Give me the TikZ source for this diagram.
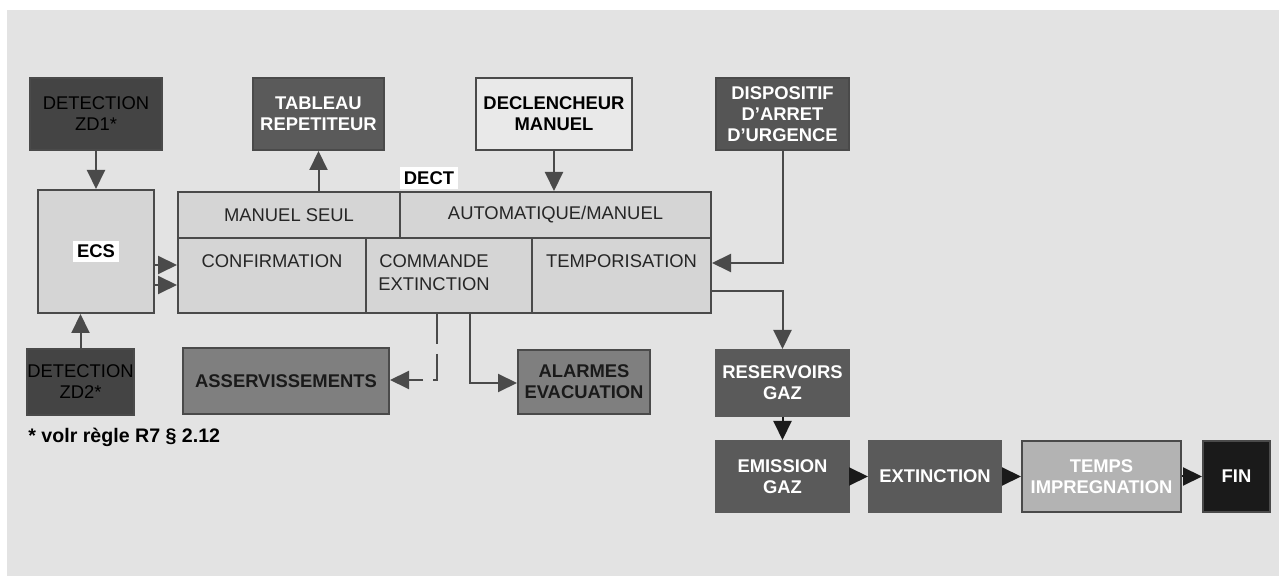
\documentclass[tikz,border=0pt]{standalone}
\usepackage{fontspec}
\setmainfont{Liberation Sans}
\usepackage{xcolor}
\usetikzlibrary{arrows.meta}
\definecolor{fond}{HTML}{E3E3E3}
\definecolor{trait}{HTML}{4A4A4A}
\definecolor{texte}{HTML}{262626}
\definecolor{gdetect}{HTML}{444444}
\definecolor{gfonce}{HTML}{5A5A5A}
\definecolor{gmoyen}{HTML}{7F7F7F}
\definecolor{gclair}{HTML}{D5D5D5}
\definecolor{gpale}{HTML}{B3B3B3}
\definecolor{gblanc}{HTML}{E9E9E9}
\definecolor{gnoir}{HTML}{1A1A1A}
\setlength{\fboxsep}{2pt}
\newcommand{\blanc}[1]{\colorbox{white}{#1}}

\begin{document}
\begin{tikzpicture}[x=0.5pt,y=-0.5pt,
  boite/.style={draw=trait,line width=1pt,inner sep=0pt,align=center,font=\bfseries\fontsize{9.2}{10.5}\selectfont},
  cellule/.style={inner sep=0pt,align=center,text=texte,font=\fontsize{9.2}{11.5}\selectfont},
  fleche/.style={-{Triangle[length=9.5pt,width=9pt]},line width=1pt,draw=trait}]
%\draw[help lines, color=gray!30, dashed] (0,0) grid (1279,576);
\fill[white] (0,0) rectangle (1279,576);
\fill[fond] (7,10) rectangle (1279,576);
\useasboundingbox (0,0) rectangle (1279,576);
% haut
\node[boite,fill=gdetect,text=black,font=\fontsize{9.2}{10.5}\selectfont,minimum width=66pt,minimum height=36pt] (zd1) at (96,114) {DETECTION\\ZD1*};
\node[boite,fill=gfonce,text=white,minimum width=65.5pt,minimum height=36pt] (tab) at (318.5,114) {TABLEAU\\REPETITEUR};
\node[boite,fill=gblanc,text=black,minimum width=78pt,minimum height=36pt] (decl) at (554,114) {DECLENCHEUR\\MANUEL};
\node[boite,fill=gfonce!95!black,text=white,minimum width=66.5pt,minimum height=36pt] (disp) at (782.5,114) {DISPOSITIF\\D'ARRET\\D'URGENCE};
% ECS et DECT
\node[boite,fill=gclair,text=black,minimum width=58pt,minimum height=61.5pt] (ecs) at (96,251.5) {\blanc{ECS}};
\node[draw=trait,line width=1pt,fill=gclair,inner sep=0pt,minimum width=266.5pt,minimum height=60.5pt] (dect) at (444.5,252.5) {};
\node[font=\bfseries\fontsize{9.2}{10.5}\selectfont,inner sep=0pt] (titre) at (429,178) {\blanc{DECT}};
\draw[trait,line width=0.6pt] (dect.west |- 0,238) -- (dect.east |- 0,238);
\draw[trait,line width=0.6pt] (dect.north -| 400,0) -- (400,238);
\draw[trait,line width=0.6pt] (366,238) -- (dect.south -| 366,0);
\draw[trait,line width=0.6pt] (532,238) -- (dect.south -| 532,0);
\node[cellule] (seul) at (289,215) {MANUEL SEUL};
\node[cellule] (auto) at (555.5,215) {AUTOMATIQUE/MANUEL};
\node[cellule] (conf) at (272,261) {CONFIRMATION};
\node[cellule] (cmd) at (434,273) {COMMANDE\\EXTINCTION};
\node[cellule] (temp) at (621.5,261) {TEMPORISATION};
% bas gauche
\node[boite,fill=gdetect,text=black,font=\fontsize{9.2}{10.5}\selectfont,minimum width=52.5pt,minimum height=33pt] (zd2) at (80.5,382) {DETECTION\\ZD2*};
\node[boite,fill=gmoyen,text=gnoir,minimum width=103pt,minimum height=33pt] (asv) at (286,381) {ASSERVISSEMENTS};
\node[boite,fill=gmoyen,text=gnoir,minimum width=66pt,minimum height=32pt] (alarm) at (584,382) {ALARMES\\EVACUATION};
\node[anchor=west,inner sep=0pt,font=\bfseries\fontsize{9.8}{11}\selectfont] (note) at (28,437) {* volr règle R7 § 2.12};
% chaine gaz
\node[boite,draw=gfonce,fill=gfonce,text=white,minimum width=66.5pt,minimum height=33pt] (res) at (782.5,383) {RESERVOIRS\\GAZ};
\node[boite,draw=gfonce,fill=gfonce,text=white,minimum width=66.5pt,minimum height=35.5pt] (emis) at (782.5,476.5) {EMISSION\\GAZ};
\node[boite,draw=gfonce,fill=gfonce,text=white,minimum width=66pt,minimum height=35.5pt] (ext) at (935,476.5) {EXTINCTION};
\node[boite,fill=gpale,text=white,minimum width=79.5pt,minimum height=35.5pt] (temps) at (1101.5,476.5) {TEMPS\\IMPREGNATION};
\node[boite,fill=gnoir,text=white,minimum width=33.5pt,minimum height=35.5pt] (fin) at (1236.5,476.5) {FIN};
% liaisons
\coordinate (asvC) at (437,380);
\coordinate (alaC) at (470,383);
\coordinate (sortie) at (dect.east |- 0,291);
\draw[fleche] (zd1) -- (zd1.south |- ecs.north);
\draw[fleche] (zd2) -- (zd2.north |- ecs.south);
\draw[fleche] (ecs.east |- 0,265) -- (dect.west |- 0,265);
\draw[fleche] (ecs.east |- 0,285) -- (dect.west |- 0,285);
\draw[fleche] (dect.north -| tab) -- (tab);
\draw[fleche] (decl) -- (decl.south |- dect.north);
\draw[fleche] (disp) |- (dect.east |- 0,263);
\draw[fleche] (sortie) -| (res);
\draw[fleche,dash pattern=on 15pt off 5pt] (dect.south -| asvC) -- (asvC) -- (asv.east |- asvC);
\draw[fleche] (dect.south -| alaC) -- (alaC) -- (alarm.west |- alaC);
\draw[fleche,draw=gnoir] (res) -- (emis);
\draw[fleche,draw=gnoir] (emis) -- (ext);
\draw[fleche,draw=gnoir] (ext) -- (temps);
\draw[fleche,draw=gnoir] (temps) -- (fin);
\end{tikzpicture}
\end{document}
